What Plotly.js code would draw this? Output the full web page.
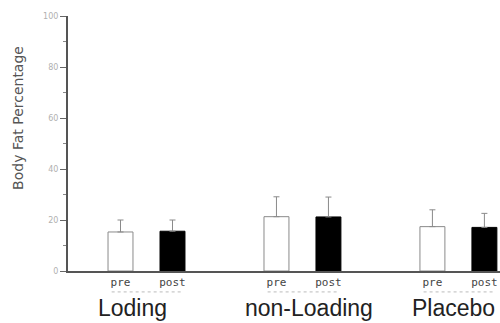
<!DOCTYPE html>
<html><head><meta charset="utf-8">
<script src="https://cdn.plot.ly/plotly-3.0.1.min.js"></script>
<style>html,body{margin:0;padding:0;background:#fff;}#chart{width:500px;height:323px;}</style>
</head><body><div id="chart"></div>
<script>
var groups = ["Loding", "non-Loading", "Placebo"];
var phases = ["pre", "post"];
var preValues = [15.3, 21.3, 17.4];
var postValues = [15.6, 21.2, 17.1];
var preErrors = [4.7, 7.8, 6.6];
var postErrors = [4.4, 7.8, 5.5];
var yTicks = [0, 20, 40, 60, 80, 100];
var yTitle = "Body Fat Percentage";

var step = 3;
var preX = groups.map(function(g, i){ return i*step; });
var postX = groups.map(function(g, i){ return i*step + 1; });

var tickVals = [], tickText = [];
groups.forEach(function(g, i){
  tickVals.push(preX[i], postX[i]);
  tickText.push(phases[0], phases[1]);
});

var traces = [
  {type:'bar', x:preX, y:preValues, width:0.48, name:'pre',
   marker:{color:'#ffffff', line:{color:'#8a8a8a', width:1}},
   error_y:{type:'data', array:preErrors, symmetric:false, arrayminus:[0,0,0], color:'#8a8a8a', thickness:1, width:3}},
  {type:'bar', x:postX, y:postValues, width:0.48, name:'post',
   marker:{color:'#000000', line:{color:'#000', width:1}},
   error_y:{type:'data', array:postErrors, symmetric:false, arrayminus:[0,0,0], color:'#8a8a8a', thickness:1, width:3}}
];

var labelOffsets = [0.24, 0.62, 0.4];
var annotations = groups.map(function(g, i){
  return {x: preX[i] + labelOffsets[i], y: -0.147, xref:'x', yref:'paper', text:g, showarrow:false,
          xanchor:'center', yanchor:'middle', font:{family:'Liberation Sans, Arial', size:23, color:'#222'}};
});
annotations.push({x:-0.116, y:0.6, xref:'paper', yref:'paper', text:yTitle, textangle:-90, showarrow:false,
  xanchor:'center', yanchor:'middle', font:{family:'DejaVu Sans', size:14, color:'#555'}});

var shapes = groups.map(function(g, i){
  return {type:'line', xref:'x', yref:'paper', x0:preX[i]-0.17, x1:postX[i]+0.17, y0:-0.082, y1:-0.082,
          line:{color:'#bbbbbb', width:1, dash:'dot'}};
});

var layout = {
  width:500, height:323,
  margin:{l:68, r:0, t:16, b:52},
  paper_bgcolor:'#fff', plot_bgcolor:'#fff',
  showlegend:false,
  bargap:0,
  xaxis:{range:[-1.01, 7.3], tickvals:tickVals, ticktext:tickText, showgrid:false, zeroline:false,
         showline:true, linecolor:'#555', linewidth:1.5, ticks:'', ticklen:0,
         tickfont:{family:'DejaVu Sans Mono, monospace', size:11, color:'#444'}},
  yaxis:{range:[0,100], tickvals:yTicks, showgrid:false, zeroline:false, showline:true,
         linecolor:'#555', linewidth:2, ticks:'outside', ticklen:6, tickcolor:'#666', tickwidth:1,
         minor:{dtick:10, ticks:'outside', ticklen:3, tickcolor:'#888', showgrid:false},
         tickfont:{family:'DejaVu Sans', size:8, color:'#b0b0b0'}},
  annotations:annotations,
  shapes:shapes
};

Plotly.newPlot('chart', traces, layout, {displayModeBar:false, staticPlot:true});
</script>
</body></html>
